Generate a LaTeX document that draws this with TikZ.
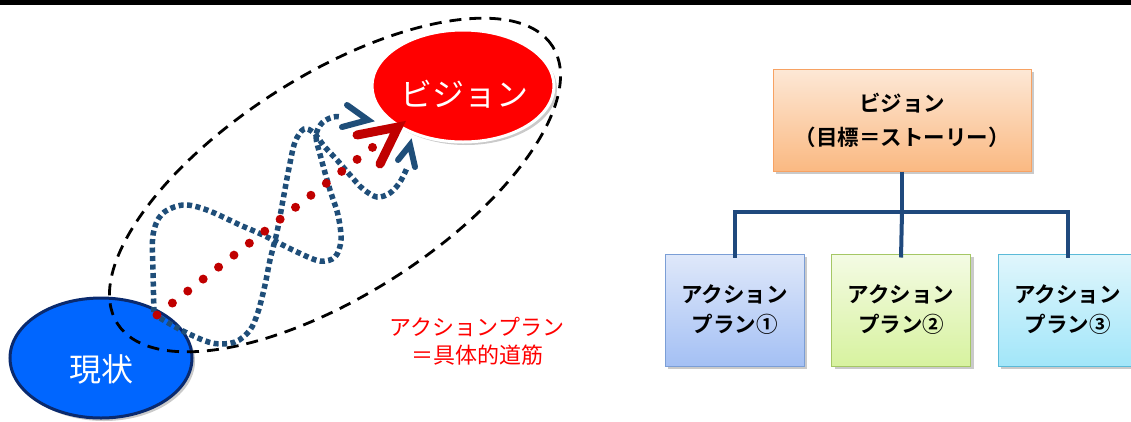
\documentclass[tikz,border=0pt]{standalone}
\usepackage{fontspec}
\newfontfamily\jp{Noto Sans CJK JP}
\newfontfamily\jpb{Noto Sans CJK JP Bold}
\usetikzlibrary{shadows,shapes.geometric}
\definecolor{nowblue}{HTML}{0066FF}
\definecolor{navy}{HTML}{0A2A6E}
\definecolor{visred}{HTML}{FF0000}
\definecolor{darkred}{HTML}{C00000}
\definecolor{pathblue}{HTML}{1F4E79}
\definecolor{linkblue}{HTML}{1F497D}
\definecolor{orgtop}{HTML}{FDE8D6}
\definecolor{orgbot}{HTML}{FAB982}
\definecolor{orgdraw}{HTML}{F7A263}
\definecolor{bluetop}{HTML}{DFE8FA}
\definecolor{bluebot}{HTML}{A4C0F4}
\definecolor{bluedraw}{HTML}{7B9ED6}
\definecolor{greentop}{HTML}{F4FBE4}
\definecolor{greenbot}{HTML}{D7F29F}
\definecolor{greendraw}{HTML}{A5C765}
\definecolor{cyantop}{HTML}{E0F6FC}
\definecolor{cyanbot}{HTML}{A2E6F9}
\definecolor{cyandraw}{HTML}{5BBAD8}
\begin{document}
\begin{tikzpicture}[x=1pt,y=-1pt,
  softshadow/.style={drop shadow={shadow xshift=3pt,shadow yshift=-3pt,opacity=0.35,fill=black!60}},
  bluedots/.style={draw=pathblue,line width=5.5pt,dash pattern=on 5pt off 3.5pt},
  reddots/.style={draw=darkred,line width=9pt,line cap=round,dash pattern=on 0pt off 19.5pt},
  bluehead/.style={draw=pathblue,line width=6pt,line cap=round,line join=miter},
  redhead/.style={draw=darkred,line width=9pt,line cap=round,line join=miter},
  plainbox/.style={rectangle,minimum width=139pt,minimum height=112pt,line width=1pt,align=center,
    font=\jpb\fontsize{21.5}{30}\selectfont,softshadow},
  link/.style={draw=linkblue,line width=4pt}]
\useasboundingbox (0,0) rectangle (1131,421);
\clip (0,0) rectangle (1131,421);
\fill[black] (0,0) rectangle (1131,5);

% current state ellipse
\node[ellipse,draw=navy,line width=3pt,fill=nowblue,minimum width=182pt,minimum height=120pt,softshadow] (now) at (101,358) {};
\node[text=white,font=\jp\fontsize{32}{32}\selectfont] (nowtxt) at (101,369) {現状};

% vision ellipse
\node[ellipse,draw=white,line width=3pt,fill=visred,minimum width=182pt,minimum height=112pt,softshadow] (vis) at (463,86) {};
\node[text=white,font=\jp\fontsize{32}{32}\selectfont] (vistxt) at (464,94) {ビジョン};

% dashed boundary
\draw[black,line width=2.8pt,dash pattern=on 12pt off 8pt,rotate around={32.5:(335,185)}]
  (335,185) ellipse [x radius=258pt, y radius=110pt];

% blue winding paths
\draw[bluedots] plot[smooth,tension=0.55] coordinates {(154,312) (153,270) (153,235) (162,214) (183,205) (207,210) (240,225) (263,235) (297,252) (320,261) (335,257) (341,240) (338,215) (330,190) (321,158) (316,136) (322,123) (333,117) (342,117)};
\draw[bluedots] plot[smooth,tension=0.55] coordinates {(160,318) (183,331) (212,343) (235,342) (250,330) (258,312) (265,285) (270,260) (277,232) (283,200) (289,168) (295,142) (304,129) (314,133) (324,146) (337,160) (350,175) (363,189) (377,197) (390,193) (400,182) (407,168)};

% red straight dotted path
\coordinate (rs) at (157,315);
\coordinate (re) at (373,147);
\draw[reddots] (rs) -- (re);

% arrow heads
\coordinate (b1a) at (347,105); \coordinate (b1t) at (368,120); \coordinate (b1b) at (342,127);
\draw[bluehead] (b1a) -- (b1t) -- (b1b);
\coordinate (b2a) at (398,160); \coordinate (b2t) at (410,145); \coordinate (b2b) at (415,167);
\draw[bluehead] (b2a) -- (b2t) -- (b2b);
\coordinate (r1a) at (357,135); \coordinate (r1t) at (398,127); \coordinate (r1b) at (380,164);
\draw[redhead] (r1a) -- (r1t) -- (r1b);

% red label
\node[text=visred,align=center,font=\jp\fontsize{22}{28}\selectfont] (lbl) at (477,341) {アクションプラン\\＝具体的道筋};

% right hierarchy
\node[plainbox,minimum width=258pt,minimum height=102pt,draw=orgdraw,top color=orgtop,bottom color=orgbot,font=\jpb\fontsize{21.5}{34}\selectfont] (top) at (902,120) {ビジョン\\（目標＝ストーリー）};
\node[plainbox,draw=bluedraw,top color=bluetop,bottom color=bluebot] (a1) at (734.5,310) {アクション\\プラン①};
\node[plainbox,draw=greendraw,top color=greentop,bottom color=greenbot] (a2) at (901,310) {アクション\\プラン②};
\node[plainbox,draw=cyandraw,top color=cyantop,bottom color=cyanbot] (a3) at (1067.5,310) {アクション\\プラン③};

\coordinate (j) at (902,212);
\draw[link] (top.south) -- (j);
\draw[link] ([yshift=-4pt]a1.north) |- (j) -| ([yshift=-4pt]a3.north);
\draw[link] (j) -- ([yshift=-4pt]a2.north);
\end{tikzpicture}
\end{document}
